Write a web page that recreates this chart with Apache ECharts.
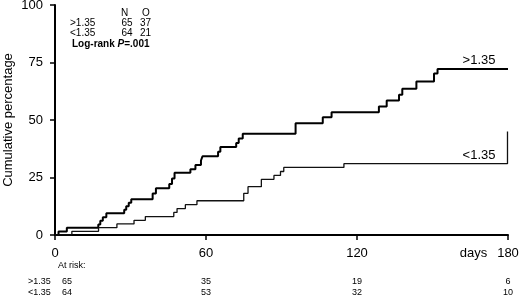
<!DOCTYPE html>
<html lang="en">
<head>
  <meta charset="utf-8">
  <title>Cumulative percentage</title>
  <script src="https://cdn.jsdelivr.net/npm/echarts@6/dist/echarts.min.js"></script>
  <style>
    html, body { margin: 0; padding: 0; background: #fff; }
    #chart { width: 520px; height: 297px; }
  </style>
</head>
<body>
<div id="chart"></div>
<script>
  // step curves (days, cumulative %)
  const highDays = [0, 1.4, 4.7, 17.2, 18.0, 19.0, 20.4, 27.5, 28.3, 29.3, 30.3, 38.8, 40.1, 45.4, 46.5, 47.5,
    53.8, 55.8, 58.0, 58.6, 64.8, 65.7, 72.0, 73.0, 74.6, 95.6, 106.4, 109.9, 128.7, 131.8, 136.7, 138.0,
    143.6, 150.6, 152.0, 180];
  const highPct = [0, 1.5, 3.1, 4.6, 6.2, 7.7, 9.5, 11.0, 12.5, 14.0, 15.5, 18.0, 20.3, 22.2, 24.6, 27.1,
    28.6, 30.4, 32.4, 34.2, 36.2, 38.3, 40.0, 42.0, 44.0, 48.6, 51.2, 53.4, 55.9, 58.5, 61.0, 63.6,
    66.7, 70.2, 72.2, 72.2];
  const lowDays = [0, 6.7, 17.3, 24.6, 31.4, 35.9, 47.2, 48.5, 51.8, 56.4, 75.0, 76.7, 82.0, 87.0, 89.6, 90.9, 114.8, 179.8];
  const lowPct = [0, 1.6, 3.2, 4.8, 6.4, 8.0, 9.8, 11.5, 13.2, 14.9, 18.1, 21.0, 24.2, 25.9, 27.6, 29.4, 31.0, 45.0];

  const groups = ['>1.35', '<1.35'];
  const nCounts = [65, 64];
  const observed = [37, 21];
  const logRankP = '.001';

  const riskDays = [0, 60, 120, 180];
  const riskHigh = [65, 35, 19, 6];
  const riskLow = [64, 53, 32, 10];

  const font = 'Liberation Sans, Arial, sans-serif';

  let chart = echarts.init(document.getElementById('chart'));

  function pairs(xs, ys) {
    return xs.map((x, i) => [x, ys[i]]);
  }

  let option = {
    animation: false,
    grid: { left: 55, right: 12, top: 5, bottom: 62, containLabel: false, outerBoundsMode: 'none' },
    xAxis: {
      type: 'value', min: 0, max: 180, interval: 60,
      axisLine: { lineStyle: { color: '#000', width: 2 } },
      axisTick: { length: 5, lineStyle: { color: '#000', width: 1.5 } },
      axisLabel: { color: '#000', fontSize: 13, fontFamily: font, margin: 12 },
      splitLine: { show: false }
    },
    yAxis: {
      type: 'value', min: 0, max: 100, interval: 25,
      name: 'Cumulative percentage', nameLocation: 'middle', nameGap: 40, nameMoveOverlap: false,
      nameTextStyle: { color: '#000', fontSize: 13, fontFamily: font },
      axisLine: { show: true, lineStyle: { color: '#000', width: 2 } },
      axisTick: { show: true, length: 5, lineStyle: { color: '#000', width: 1.5 } },
      axisLabel: { color: '#000', fontSize: 13, fontFamily: font, margin: 12 },
      splitLine: { show: false }
    },
    series: [
      {
        type: 'line', step: 'end', showSymbol: false, silent: true,
        lineStyle: { color: '#000', width: 2 },
        data: pairs(highDays, highPct)
      },
      {
        type: 'line', step: 'end', showSymbol: false, silent: true,
        lineStyle: { color: '#111', width: 1.3 },
        data: pairs(lowDays, lowPct)
      }
    ]
  };
  chart.setOption(option);

  // texts placed after layout, using the axis scales where they belong to data
  function px(x, y) {
    return chart.convertToPixel({ gridIndex: 0 }, [x, y]);
  }
  function txt(x, y, s, size, align, extra) {
    return {
      type: 'text', x: x, y: y, silent: true,
      style: Object.assign({
        text: s, fill: '#000', fontSize: size, fontFamily: font,
        textAlign: align || 'left', textVerticalAlign: 'middle'
      }, extra || {})
    };
  }

  let els = [];
  // N / O table
  els.push(txt(124.5, 13, 'N', 10, 'center'));
  els.push(txt(146, 13, 'O', 10, 'center'));
  groups.forEach((g, i) => {
    let y = 23 + i * 10.5;
    els.push(txt(70, y, g, 10));
    els.push(txt(127, y, String(nCounts[i]), 10, 'center'));
    els.push(txt(145.5, y, String(observed[i]), 10, 'center'));
  });
  els.push({
    type: 'text', x: 72, y: 44, silent: true,
    style: {
      text: '{b|Log-rank }{i|P}{b|=' + logRankP + '}',
      textVerticalAlign: 'middle',
      rich: {
        b: { fontSize: 10, fontWeight: 'bold', fontFamily: font, fill: '#000' },
        i: { fontSize: 10, fontWeight: 'bold', fontStyle: 'italic', fontFamily: font, fill: '#000' }
      }
    }
  });

  // curve labels
  let p = px(168.5, 75.7);
  els.push(txt(p[0], p[1], groups[0], 13, 'center'));
  p = px(168.5, 34.8);
  els.push(txt(p[0], p[1], groups[1], 13, 'center'));
  p = px(166.3, 0);
  els.push(txt(p[0], 253, 'days', 13, 'center'));

  // at-risk table
  els.push(txt(58, 266, 'At risk:', 9));
  els.push(txt(28, 282, groups[0], 9));
  els.push(txt(28, 293, groups[1], 9));
  riskDays.forEach((d, i) => {
    let x = px(d, 0)[0] + (d === 0 ? 12 : 0);
    els.push(txt(x, 282, String(riskHigh[i]), 9, 'center'));
    els.push(txt(x, 293, String(riskLow[i]), 9, 'center'));
  });

  chart.setOption({ graphic: { elements: els } });
</script>
</body>
</html>
